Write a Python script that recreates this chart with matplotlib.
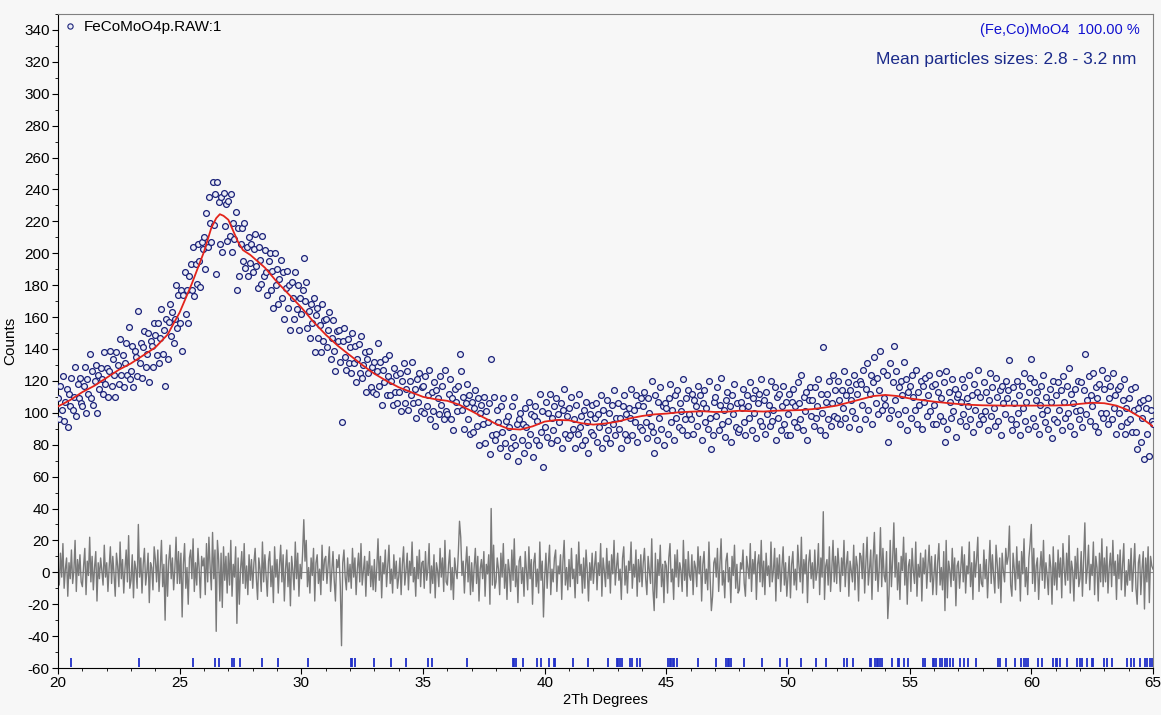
import numpy as np
import matplotlib
matplotlib.use("Agg")
import matplotlib.pyplot as plt
from matplotlib.lines import Line2D
from matplotlib.ticker import MultipleLocator

plt.rcParams["font.family"] = ["Liberation Sans", "DejaVu Sans"]
plt.rcParams["axes.unicode_minus"] = False

# scan: 20 - 65 deg 2Th, step 0.05
two_theta = np.linspace(20, 65, 901)

# observed counts, one row per degree
obs_counts = [
    109, 96, 117, 102, 123, 95, 107, 115, 91, 112, 104, 122, 102, 110, 129, 98, 118, 109, 122, 106,
    104, 117, 129, 100, 121, 112, 137, 109, 126, 105, 120, 130, 100, 124, 115, 128, 121, 112, 138, 118,
    128, 110, 126, 139, 117, 134, 124, 110, 138, 130, 118, 146, 124, 136, 116, 131, 144, 124, 154, 121,
    126, 142, 116, 139, 135, 123, 164, 131, 144, 122, 141, 151, 129, 137, 150, 119, 145, 142, 129, 156,
    149, 136, 156, 131, 147, 165, 137, 152, 117, 159, 134, 157, 168, 148, 163, 144, 159, 180, 153, 174,
    156, 177, 139, 174, 188, 162, 177, 156, 186, 193, 177, 204, 173, 193, 181, 206, 195, 179, 207, 203,
    210, 190, 225, 204, 235, 219, 207, 245, 218, 237, 187, 245, 232, 206, 235, 201, 238, 217, 231, 208,
    233, 211, 237, 201, 219, 209, 226, 177, 216, 186, 206, 216, 195, 219, 191, 204, 186, 210, 194, 206,
    188, 203, 212, 192, 178, 204, 196, 181, 211, 186, 202, 188, 174, 195, 200, 177, 189, 166, 200, 180,
    190, 168, 184, 196, 172, 188, 159, 178, 189, 166, 180, 152, 182, 172, 159, 188, 165, 180, 152, 172,
    162, 177, 197, 170, 182, 153, 164, 147, 168, 156, 172, 138, 161, 166, 147, 155, 138, 168, 145, 158,
    159, 141, 152, 163, 134, 147, 158, 139, 126, 151, 145, 152, 132, 94, 145, 153, 135, 127, 146, 131,
    141, 125, 150, 131, 142, 119, 134, 143, 125, 148, 122, 130, 138, 113, 134, 125, 139, 116, 129, 113,
    132, 112, 126, 144, 117, 132, 105, 127, 119, 134, 111, 123, 136, 111, 120, 105, 128, 113, 124, 106,
    113, 125, 101, 120, 131, 106, 115, 126, 102, 120, 111, 132, 106, 115, 97, 121, 107, 125, 101, 116,
    117, 100, 123, 104, 111, 127, 96, 113, 101, 119, 92, 114, 109, 99, 123, 105, 117, 96, 127, 101,
    99, 112, 121, 96, 109, 89, 115, 107, 101, 117, 137, 126, 102, 110, 90, 106, 118, 96, 111, 87,
    107, 88, 103, 114, 92, 109, 80, 100, 105, 93, 110, 81, 101, 94, 106, 74, 134, 86, 110, 83,
    87, 102, 94, 78, 104, 88, 109, 81, 95, 73, 98, 91, 78, 104, 85, 110, 80, 93, 70, 96,
    100, 83, 93, 75, 103, 91, 80, 107, 87, 99, 72, 98, 104, 83, 95, 80, 112, 88, 101, 66,
    91, 107, 85, 100, 112, 81, 97, 89, 104, 109, 83, 99, 94, 106, 78, 102, 115, 87, 98, 84,
    103, 86, 110, 90, 96, 78, 105, 87, 112, 91, 98, 80, 102, 83, 107, 94, 75, 99, 88, 105,
    86, 97, 106, 82, 99, 91, 111, 78, 102, 94, 84, 108, 89, 100, 81, 105, 93, 114, 86, 97,
    106, 90, 97, 78, 104, 111, 87, 99, 83, 103, 97, 115, 86, 102, 94, 111, 82, 105, 91, 109,
    89, 104, 113, 94, 84, 109, 100, 92, 120, 88, 75, 111, 83, 107, 97, 116, 90, 104, 80, 106,
    103, 87, 109, 118, 94, 102, 83, 111, 97, 114, 91, 106, 101, 89, 121, 96, 109, 86, 114, 99,
    96, 112, 87, 108, 104, 92, 117, 100, 111, 83, 106, 114, 94, 103, 90, 120, 97, 77, 86, 107,
    110, 98, 116, 89, 105, 122, 93, 102, 85, 108, 113, 95, 104, 82, 111, 99, 118, 91, 106, 88,
    90, 107, 103, 115, 94, 86, 111, 104, 97, 119, 89, 109, 100, 114, 84, 106, 112, 95, 121, 92,
    108, 87, 113, 99, 105, 92, 120, 95, 102, 116, 83, 110, 97, 112, 89, 104, 117, 93, 107, 86,
    99, 112, 86, 107, 115, 94, 104, 91, 119, 106, 96, 124, 89, 110, 101, 113, 83, 108, 116, 98,
    108, 92, 116, 97, 104, 121, 89, 112, 100, 141, 86, 107, 112, 96, 120, 92, 106, 124, 98, 114,
    97, 120, 108, 93, 114, 103, 126, 97, 111, 119, 91, 114, 108, 101, 124, 97, 118, 112, 90, 120,
    118, 105, 127, 96, 115, 131, 102, 112, 124, 93, 119, 135, 106, 122, 99, 114, 139, 102, 126, 109,
    105, 124, 82, 97, 131, 102, 119, 142, 108, 126, 99, 116, 93, 120, 111, 132, 102, 121, 89, 113,
    117, 97, 124, 110, 102, 127, 93, 113, 105, 120, 90, 117, 107, 122, 98, 111, 124, 101, 117, 93,
    105, 118, 93, 113, 125, 98, 109, 95, 119, 82, 126, 90, 113, 107, 97, 121, 101, 115, 85, 110,
    112, 95, 107, 121, 99, 116, 92, 109, 104, 124, 96, 111, 88, 118, 102, 113, 127, 93, 110, 98,
    96, 119, 101, 113, 89, 108, 125, 98, 116, 103, 92, 122, 110, 95, 114, 86, 117, 106, 99, 120,
    109, 114, 133, 96, 89, 116, 106, 93, 120, 100, 111, 86, 117, 103, 125, 95, 107, 90, 113, 122,
    134, 97, 119, 92, 108, 113, 87, 105, 117, 99, 124, 94, 110, 102, 90, 115, 107, 84, 120, 96,
    111, 94, 119, 102, 114, 89, 123, 107, 97, 117, 100, 128, 92, 112, 106, 87, 115, 101, 120, 96,
    102, 119, 91, 114, 137, 99, 108, 123, 95, 111, 104, 125, 92, 116, 109, 88, 118, 100, 127, 97,
    115, 100, 122, 93, 109, 117, 96, 125, 103, 111, 87, 115, 100, 117, 92, 108, 121, 87, 103, 94,
    109, 96, 115, 88, 102, 116, 88, 77, 103, 107, 82, 97, 108, 71, 103, 87, 109, 73, 102, 95,
    93,
]

# difference curve (obs - calc)
diff_counts = [
    5, -8, 12, -3, 18, -10, 2, 9, -15, 6, -4, 14, -7, 1, 20, -12, 8, -2, 11, -6,
    -9, 4, 15, -14, 7, -2, 22, -6, 10, -11, 3, 13, -18, 6, -4, 9, 1, -8, 17, -3,
    6, -12, 3, 16, -7, 10, -1, -15, 12, 4, -9, 19, -4, 8, -13, 2, 14, -6, 23, -10,
    -5, 11, -16, 7, 2, -10, 30, -3, 9, -13, 5, 15, -8, 0, 12, -19, 6, 3, -11, 16,
    8, -6, 14, -12, 3, 20, -9, 5, -30, 11, -15, 7, 17, -4, 9, -11, 2, 22, -7, 13,
    -7, 12, -28, 5, 18, -10, 3, -20, 9, 14, -4, 21, -12, 6, -8, 15, 2, -16, 10, 4,
    9, -14, 18, -6, 22, 3, -11, 25, -4, 14, -37, 20, 8, -18, 12, -22, 16, -5, 10, -13,
    12, -8, 20, -15, 5, -3, 16, -32, 9, -20, 2, 13, -7, 18, -10, 4, -14, 11, -5, 8,
    -10, 6, 15, -4, -17, 9, 2, -12, 19, -6, 11, -2, -15, 7, 13, -9, 4, -19, 16, -3,
    8, -13, 4, 17, -6, 11, -18, 2, 14, -9, 6, -21, 10, 1, -11, 19, -4, 12, -15, 5,
    -4, 12, 33, 7, 20, -9, 3, -13, 9, -2, 15, -18, 6, 11, -7, 2, -14, 17, -5, 8,
    10, -7, 4, 16, -12, 1, 13, -5, -18, 8, 3, 11, -9, -46, 6, 14, -3, -11, 9, -6,
    5, -10, 15, -3, 9, -14, 2, 12, -6, 18, -8, 1, 10, -15, 7, -2, 13, -9, 4, -11,
    8, -12, 3, 21, -5, 10, -16, 6, -1, 14, -9, 4, 17, -7, 2, -13, 11, -4, 7, -10,
    -3, 9, -14, 5, 16, -8, 1, 12, -11, 7, -2, 19, -6, 3, -15, 10, -4, 14, -9, 6,
    7, -10, 13, -5, 2, 18, -13, 4, -7, 11, -16, 6, 1, -9, 15, -3, 9, -12, 20, -6,
    -8, 5, 14, -11, 3, -17, 9, 1, -4, 12, 32, 22, -2, 7, -13, 4, 16, -6, 10, -14,
    6, -12, 3, 15, -7, 10, -18, 2, 8, -4, 13, -15, 5, -1, 11, -20, 40, -8, 17, -10,
    -6, 9, 2, -14, 12, -3, 18, -10, 5, -17, 8, 1, -12, 14, -5, 21, -9, 4, -19, 7,
    10, -7, 3, -15, 13, 1, -11, 16, -4, 8, -20, 6, 12, -9, 2, -13, 19, -5, 7, -28,
    -3, 12, -10, 5, 17, -14, 2, -6, 9, 14, -12, 4, -1, 11, -17, 7, 20, -8, 3, -11,
    8, -9, 15, -4, 2, -16, 11, -7, 19, -2, 5, -13, 9, -10, 14, 1, -18, 6, -5, 12,
    -7, 4, 13, -11, 6, -2, 18, -15, 9, 1, -9, 15, -4, 7, -13, 11, -1, 20, -8, 3,
    12, -5, 2, -17, 9, 16, -8, 4, -13, 7, 1, 19, -10, 5, -3, 14, -15, 8, -6, 11,
    -9, 6, 15, -4, -14, 10, 1, -7, 21, -11, -24, 12, -16, 8, -2, 17, -9, 5, -19, 7,
    4, -13, 9, 18, -6, 2, -17, 11, -3, 14, -9, 6, 1, -12, 20, -5, 8, -15, 13, -2,
    -5, 11, -14, 7, 3, -9, 16, -1, 10, -18, 5, 13, -7, 2, -11, 19, -4, -24, -15, 6,
    9, -3, 15, -12, 4, 21, -8, 1, -16, 7, 12, -6, 3, -19, 10, -2, 17, -10, 5, -13,
    -11, 6, 2, 14, -7, -15, 10, 3, -4, 18, -12, 8, -1, 13, -17, 5, 11, -6, 20, -9,
    7, -14, 12, -2, 4, -9, 19, -6, 1, 15, -18, 9, -4, 11, -12, 3, 16, -8, 6, -15,
    -3, 10, -16, 5, 13, -8, 2, -11, 17, 4, -6, 22, -13, 8, -1, 11, -19, 6, 14, -4,
    6, -10, 14, -5, 1, 18, -14, 9, -3, 38, -17, 4, 8, -8, 16, -12, 2, 20, -6, 10,
    -7, 15, 3, -12, 9, -2, 20, -9, 5, 13, -15, 7, 1, -6, 17, -11, 10, 4, -18, 12,
    10, -4, 18, -13, 6, 22, -8, 2, 14, -17, 9, 25, -5, 11, -12, 3, 28, -9, 15, -2,
    -6, 13, -29, -14, 20, -9, 8, 31, -3, 15, -11, 6, -17, 10, 1, 22, -8, 12, -20, 4,
    8, -12, 15, 1, -7, 19, -15, 5, -3, 12, -18, 9, -1, 14, -10, 4, 17, -6, 10, -14,
    -2, 11, -14, 6, 18, -8, 3, -11, 13, -24, 20, -16, 7, 1, -9, 15, -5, 9, -21, 4,
    7, -10, 2, 16, -6, 11, -13, 4, -1, 19, -9, 6, -17, 13, -3, 8, 22, -12, 5, -7,
    -9, 14, -4, 8, -16, 3, 20, -7, 11, -2, -13, 17, 5, -10, 9, -19, 12, 1, -6, 15,
    5, 10, 29, -8, -15, 12, 2, -11, 16, -4, 7, -18, 13, -1, 21, -9, 3, -14, 9, 18,
    30, -7, 15, -12, 4, 9, -17, 1, 13, -5, 20, -10, 6, -2, -14, 11, 3, -20, 16, -8,
    6, -11, 14, -3, 9, -16, 18, 2, -8, 12, -5, 23, -13, 7, 1, -18, 10, -4, 15, -9,
    -4, 13, -15, 8, 31, -7, 2, 17, -11, 5, -2, 19, -14, 10, 3, -18, 12, -6, 21, -9,
    9, -6, 16, -13, 3, 12, -9, 20, -2, 7, -17, 11, -4, 14, -11, 5, 18, -15, 1, -8,
    8, -5, 15, -12, 3, 18, -10, -20, 6, 11, -14, 2, 13, -23, 9, -6, 16, -19, 10, 4,
    2,
]

# calculated profile
calc_tth = [20.0, 20.5, 21.0, 21.5, 22.0, 22.5, 23.0, 23.5, 24.0, 24.5, 25.0, 25.5,
            26.0, 26.3, 26.5, 26.65, 26.8, 27.0, 27.2, 27.4, 27.6, 27.9, 28.5, 29.0,
            29.5, 30.0, 30.5, 31.0, 31.5, 32.0, 32.5, 33.0, 33.5, 34.0, 34.5, 35.0,
            35.5, 36.0, 36.5, 37.0, 37.5, 38.0, 38.5, 39.0, 39.5, 40.0, 40.5, 41.0,
            41.5, 42.0, 42.5, 43.0, 43.5, 44.0, 44.5, 45.0, 45.5, 46.0, 46.5, 47.0,
            47.5, 48.0, 48.5, 49.0, 49.5, 50.0, 50.5, 51.0, 51.5, 52.0, 52.5, 53.0,
            53.5, 54.0, 54.5, 55.0, 55.5, 56.0, 56.5, 57.0, 57.5, 58.0, 59.0, 60.0,
            61.0, 61.5, 62.0, 62.5, 63.0, 63.5, 64.0, 64.5, 65.0]
calc_counts = [104, 108, 113, 117, 122, 127, 131, 136, 141, 149, 163, 181,
               201, 216, 222, 224.5, 223.5, 221, 214, 207, 202, 199, 191, 182,
               174, 166, 157, 149, 142, 136, 130, 124.5, 120, 116, 113, 110,
               108.5, 107.5, 105, 101, 97, 93, 90, 89.5, 91.5, 94.5, 95.5, 95.3,
               93.5, 92.6, 93.3, 94.5, 96.5, 98, 99, 99.5, 100.3, 100.7, 101, 100.5,
               100.7, 101.3, 101, 100.8, 101.3, 101.5, 101.7, 102.3, 103.3, 104.5, 106.5, 108.5,
               110.5, 111.2, 110.5, 109, 108, 107, 106.2, 105.5, 105, 104.7, 104.5, 104.5,
               104.6, 104.8, 105.6, 106.3, 106, 104.5, 101.5, 97, 91.5]

# (Fe,Co)MoO4 reflection positions
hkl_pos = [20.52, 23.34, 25.53, 26.47, 26.61, 27.15, 27.24, 27.48, 28.39, 29.05, 30.28,
           32.03, 32.10, 32.19, 33.00, 33.67, 34.29, 35.19, 35.38, 36.80, 38.69, 38.75,
           38.82, 39.11, 39.69, 39.86, 40.17, 40.39, 40.44, 41.18, 41.79,
           42.62, 42.96, 43.03, 43.10, 43.17, 43.51, 43.60, 43.78, 43.92, 45.06, 45.13,
           45.20, 45.27, 45.33, 45.45, 46.29, 47.03, 47.46, 47.53, 47.59, 47.65, 48.20,
           48.92, 49.69, 49.96, 50.52, 51.15, 51.55, 52.31, 52.42, 52.69,
           53.35, 53.42, 53.58, 53.65, 53.71, 53.78, 53.88, 54.27, 54.50, 54.57, 54.78,
           54.95, 55.54, 55.61, 55.95, 56.02, 56.09, 56.25, 56.32, 56.46, 56.55, 56.66,
           56.80, 57.07, 57.25, 57.41, 57.72, 58.62, 58.72, 58.95, 59.31, 59.58, 59.68,
           59.77, 59.88, 60.27, 60.43, 60.91, 61.01, 61.07, 61.18, 61.48, 61.87, 61.98,
           62.10, 62.28, 62.51, 62.55, 63.00, 63.10, 63.31, 63.92, 64.09, 64.24, 64.47,
           64.68, 64.77, 64.88, 64.95]

bg = "#f7f7f7"
fig = plt.figure(figsize=(11.61, 7.15), dpi=100, facecolor=bg)
ax = fig.add_axes([0.05, 0.0657, 0.9431, 0.9147])
ax.set_facecolor(bg)

# difference curve + zero line
ax.axhline(0, color="#8c8c8c", lw=0.8, zorder=1)
ax.plot(two_theta, diff_counts, color="#7a7a7a", lw=1.0, zorder=2)

# observed points and calculated profile
ax.plot(two_theta, obs_counts, "o", mfc="#eceef6", mec="#1c237a", ms=4.2, mew=0.9, zorder=3)
ax.plot(calc_tth, calc_counts, color="#e3241b", lw=1.3, zorder=4)

# reflection ticks
ax.vlines(hkl_pos, -59.5, -54, color="#1f2fc8", lw=1.3, zorder=3)

ax.set_xlim(20, 65)
ax.set_ylim(-60, 350)
ax.xaxis.set_major_locator(MultipleLocator(5))
ax.xaxis.set_minor_locator(MultipleLocator(1))
ax.yaxis.set_minor_locator(MultipleLocator(10))
ax.set_yticks(np.arange(-60, 341, 20))
ax.tick_params(axis="both", which="major", labelsize=11, length=4, width=0.8, pad=2)
ax.tick_params(axis="both", which="minor", length=2, width=0.6)

for side in ("left", "bottom"):
    ax.spines[side].set_color("black")
for side in ("top", "right"):
    ax.spines[side].set_color("#808080")

ax.set_ylabel("Counts", fontsize=11)
ax.yaxis.set_label_coords(-0.037, 0.5)
ax.set_xlabel("2Th Degrees", fontsize=10.5, labelpad=2)

handle = Line2D([], [], marker="o", ls="none", mfc="#eceef6", mec="#1c237a", ms=3.8, mew=0.8)
ax.legend([handle], ["FeCoMoO4p.RAW:1"], loc="upper left", frameon=False,
          fontsize=11, handlelength=0.8, handletextpad=0.5, borderaxespad=0.2,
          borderpad=0.2)

ax.text(0.988, 0.9755, "(Fe,Co)MoO4  100.00 %", transform=ax.transAxes,
        ha="right", va="center", fontsize=10.5, color="#1010d0")
ax.text(0.985, 0.9297, "Mean particles sizes: 2.8 - 3.2 nm", transform=ax.transAxes,
        ha="right", va="center", fontsize=12.5, color="#1a2a8a")

fig.savefig("out.png", dpi=100, facecolor=bg)
